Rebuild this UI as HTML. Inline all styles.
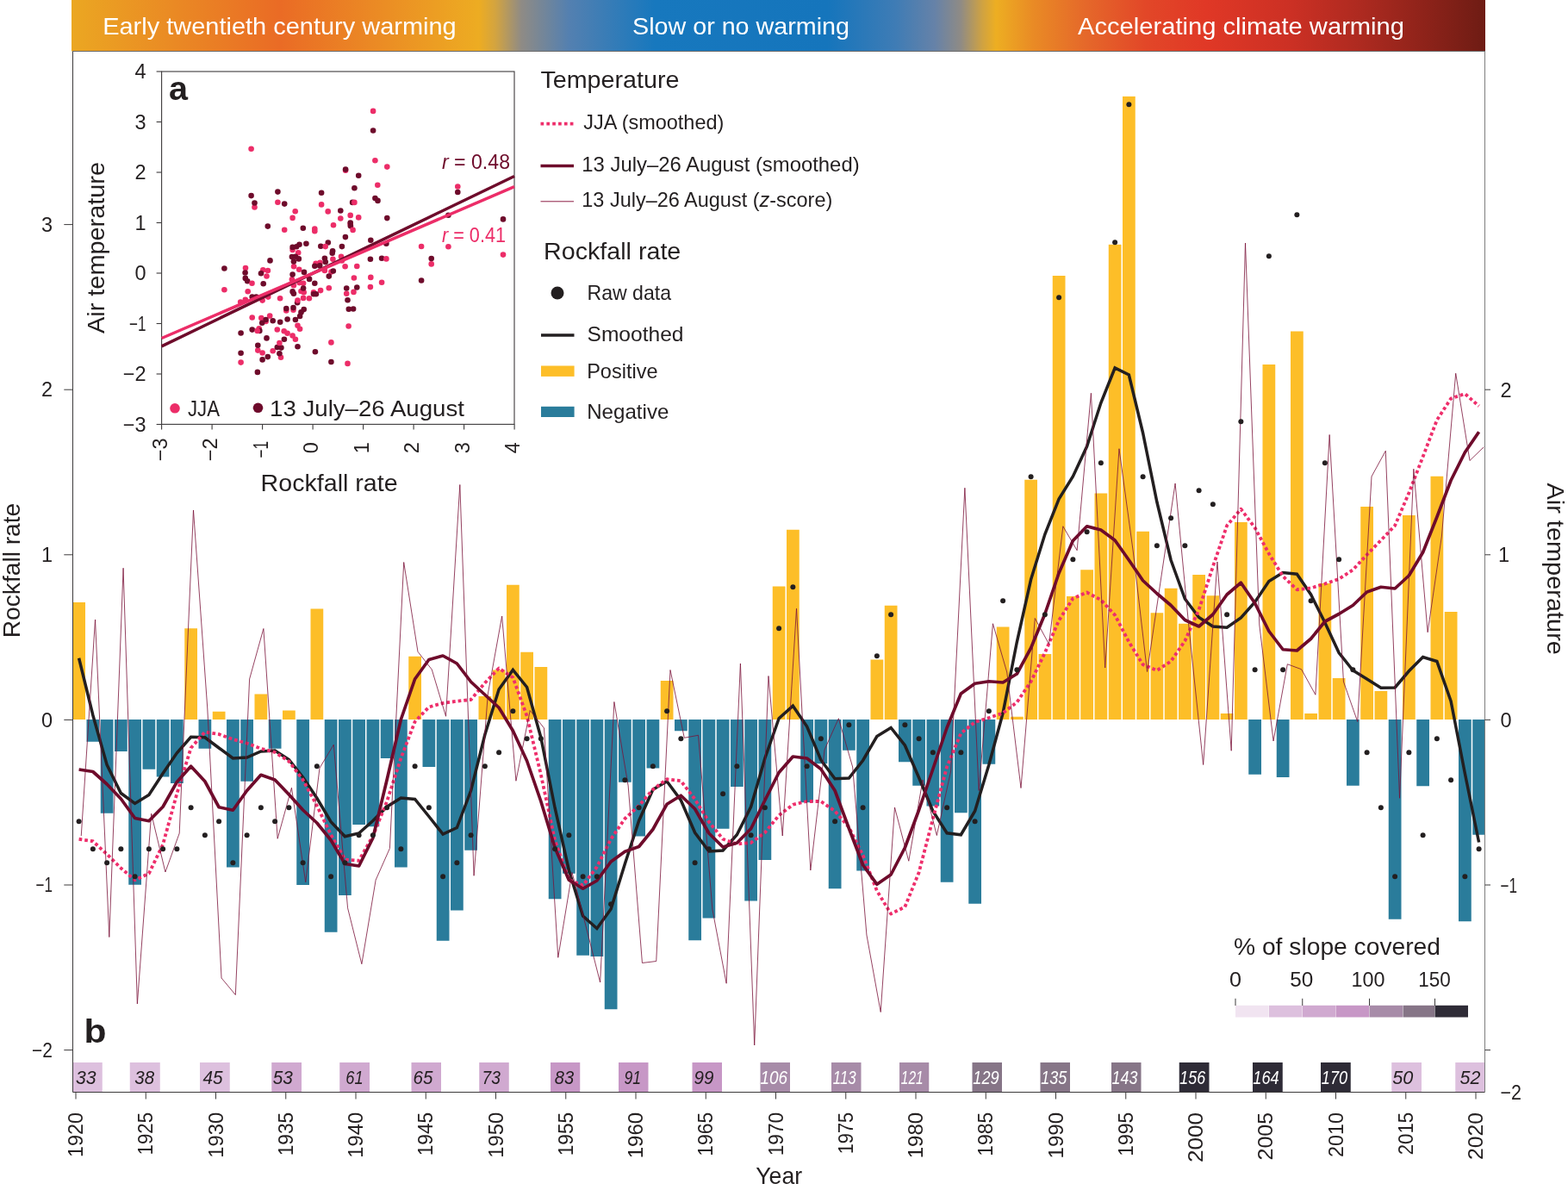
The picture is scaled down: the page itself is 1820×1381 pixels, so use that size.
<!DOCTYPE html>
<html lang="en"><head><meta charset="utf-8"><title>Rockfall rate and air temperature, 1920-2020</title>
<style>html,body{margin:0;padding:0;background:#fff}body{width:1820px;height:1381px;overflow:hidden}svg{display:block}text{font-family:'Liberation Sans', Arial, Helvetica, sans-serif}</style>
</head><body>
<svg width="1820" height="1381" viewBox="0 0 1820 1381" fill="#231f20" role="img" aria-label="Rockfall rate and air temperature 1920-2020">
<defs><linearGradient id="bn" gradientUnits="userSpaceOnUse" x1="83" y1="0" x2="1724" y2="0">
<stop offset="0.0000" stop-color="#EBA722"/>
<stop offset="0.0713" stop-color="#EA8A24"/>
<stop offset="0.1475" stop-color="#EA6B25"/>
<stop offset="0.2236" stop-color="#EB8E24"/>
<stop offset="0.2882" stop-color="#EDAC22"/>
<stop offset="0.2998" stop-color="#D3A440"/>
<stop offset="0.3181" stop-color="#8F8B85"/>
<stop offset="0.3516" stop-color="#5480B0"/>
<stop offset="0.4126" stop-color="#1778BE"/>
<stop offset="0.5344" stop-color="#1575BC"/>
<stop offset="0.5832" stop-color="#3F7CB5"/>
<stop offset="0.6106" stop-color="#6682A8"/>
<stop offset="0.6289" stop-color="#8F8B85"/>
<stop offset="0.6441" stop-color="#CFA242"/>
<stop offset="0.6539" stop-color="#EDAE22"/>
<stop offset="0.6807" stop-color="#E98A25"/>
<stop offset="0.7172" stop-color="#E5682A"/>
<stop offset="0.7599" stop-color="#E24728"/>
<stop offset="0.8026" stop-color="#E03826"/>
<stop offset="0.8635" stop-color="#CB3024"/>
<stop offset="0.9122" stop-color="#AD2A20"/>
<stop offset="0.9610" stop-color="#8B2219"/>
<stop offset="1.0000" stop-color="#6E1C14"/>
</linearGradient></defs>
<rect x="0" y="0" width="1820" height="1381" fill="#fff"/>
<rect x="83" y="0" width="1641" height="59.5" fill="url(#bn)"/>
<text x="119.2" y="40.2" font-size="28" textLength="410.5" lengthAdjust="spacingAndGlyphs" fill="#fff">Early twentieth century warming</text>
<text x="734" y="40.2" font-size="28" textLength="252" lengthAdjust="spacingAndGlyphs" fill="#fff">Slow or no warming</text>
<text x="1251" y="40.2" font-size="28" textLength="379" lengthAdjust="spacingAndGlyphs" fill="#fff">Accelerating climate warming</text>
<g id="bars" shape-rendering="auto">
<rect x="84.25" y="699" width="14.75" height="136" fill="#FDBE28"/>
<rect x="100.5" y="835" width="14.75" height="25.75" fill="#2A7C9B"/>
<rect x="116.75" y="835" width="14.75" height="108.75" fill="#2A7C9B"/>
<rect x="133" y="835" width="14.75" height="37" fill="#2A7C9B"/>
<rect x="149.25" y="835" width="14.75" height="191.75" fill="#2A7C9B"/>
<rect x="165.5" y="835" width="14.75" height="57.75" fill="#2A7C9B"/>
<rect x="181.75" y="835" width="14.75" height="66.5" fill="#2A7C9B"/>
<rect x="198" y="835" width="14.75" height="74" fill="#2A7C9B"/>
<rect x="214.25" y="729.25" width="14.75" height="105.75" fill="#FDBE28"/>
<rect x="230.5" y="835" width="14.75" height="33.75" fill="#2A7C9B"/>
<rect x="246.75" y="825.75" width="14.75" height="9.25" fill="#FDBE28"/>
<rect x="263" y="835" width="14.75" height="171.5" fill="#2A7C9B"/>
<rect x="279.25" y="835" width="14.75" height="71.75" fill="#2A7C9B"/>
<rect x="295.5" y="805.5" width="14.75" height="29.5" fill="#FDBE28"/>
<rect x="311.75" y="835" width="14.75" height="33.75" fill="#2A7C9B"/>
<rect x="328" y="824.5" width="14.75" height="10.5" fill="#FDBE28"/>
<rect x="344.25" y="835" width="14.75" height="192" fill="#2A7C9B"/>
<rect x="360.5" y="706.5" width="14.75" height="128.5" fill="#FDBE28"/>
<rect x="376.75" y="835" width="14.75" height="246.75" fill="#2A7C9B"/>
<rect x="393" y="835" width="14.75" height="204" fill="#2A7C9B"/>
<rect x="409.25" y="835" width="14.75" height="122" fill="#2A7C9B"/>
<rect x="425.5" y="835" width="14.75" height="124.25" fill="#2A7C9B"/>
<rect x="441.75" y="835" width="14.75" height="45" fill="#2A7C9B"/>
<rect x="458" y="835" width="14.75" height="171.5" fill="#2A7C9B"/>
<rect x="474.25" y="761.75" width="14.75" height="73.25" fill="#FDBE28"/>
<rect x="490.5" y="835" width="14.75" height="55" fill="#2A7C9B"/>
<rect x="506.75" y="835" width="14.75" height="256.75" fill="#2A7C9B"/>
<rect x="523" y="835" width="14.75" height="221.5" fill="#2A7C9B"/>
<rect x="539.25" y="835" width="14.75" height="151.75" fill="#2A7C9B"/>
<rect x="555.5" y="808" width="14.75" height="27" fill="#FDBE28"/>
<rect x="571.75" y="777.5" width="14.75" height="57.5" fill="#FDBE28"/>
<rect x="588" y="678.75" width="14.75" height="156.25" fill="#FDBE28"/>
<rect x="604.25" y="756.75" width="14.75" height="78.25" fill="#FDBE28"/>
<rect x="620.5" y="774" width="14.75" height="61" fill="#FDBE28"/>
<rect x="636.75" y="835" width="14.75" height="208.25" fill="#2A7C9B"/>
<rect x="653" y="835" width="14.75" height="178.75" fill="#2A7C9B"/>
<rect x="669.25" y="835" width="14.75" height="273.75" fill="#2A7C9B"/>
<rect x="685.5" y="835" width="14.75" height="275" fill="#2A7C9B"/>
<rect x="701.75" y="835" width="14.75" height="336.25" fill="#2A7C9B"/>
<rect x="718" y="835" width="14.75" height="72.75" fill="#2A7C9B"/>
<rect x="734.25" y="835" width="14.75" height="135.5" fill="#2A7C9B"/>
<rect x="750.5" y="835" width="14.75" height="56.5" fill="#2A7C9B"/>
<rect x="766.75" y="790" width="14.75" height="45" fill="#FDBE28"/>
<rect x="783" y="835" width="14.75" height="13.25" fill="#2A7C9B"/>
<rect x="799.25" y="835" width="14.75" height="256.25" fill="#2A7C9B"/>
<rect x="815.5" y="835" width="14.75" height="230.5" fill="#2A7C9B"/>
<rect x="831.75" y="835" width="14.75" height="126.75" fill="#2A7C9B"/>
<rect x="848" y="835" width="14.75" height="78" fill="#2A7C9B"/>
<rect x="864.25" y="835" width="14.75" height="210.5" fill="#2A7C9B"/>
<rect x="880.5" y="835" width="14.75" height="163" fill="#2A7C9B"/>
<rect x="896.75" y="680.5" width="14.75" height="154.5" fill="#FDBE28"/>
<rect x="913" y="614.75" width="14.75" height="220.25" fill="#FDBE28"/>
<rect x="929.25" y="835" width="14.75" height="96.25" fill="#2A7C9B"/>
<rect x="945.5" y="835" width="14.75" height="51.25" fill="#2A7C9B"/>
<rect x="961.75" y="835" width="14.75" height="196.25" fill="#2A7C9B"/>
<rect x="978" y="835" width="14.75" height="35.75" fill="#2A7C9B"/>
<rect x="994.25" y="835" width="14.75" height="175.5" fill="#2A7C9B"/>
<rect x="1010.5" y="765.5" width="14.75" height="69.5" fill="#FDBE28"/>
<rect x="1026.75" y="702.75" width="14.75" height="132.25" fill="#FDBE28"/>
<rect x="1043" y="835" width="14.75" height="49.25" fill="#2A7C9B"/>
<rect x="1059.25" y="835" width="14.75" height="76.75" fill="#2A7C9B"/>
<rect x="1075.5" y="835" width="14.75" height="100.5" fill="#2A7C9B"/>
<rect x="1091.75" y="835" width="14.75" height="188.75" fill="#2A7C9B"/>
<rect x="1108" y="835" width="14.75" height="108.25" fill="#2A7C9B"/>
<rect x="1124.25" y="835" width="14.75" height="213.75" fill="#2A7C9B"/>
<rect x="1140.5" y="835" width="14.75" height="51.75" fill="#2A7C9B"/>
<rect x="1156.75" y="727.5" width="14.75" height="107.5" fill="#FDBE28"/>
<rect x="1173" y="831.75" width="14.75" height="3.25" fill="#FDBE28"/>
<rect x="1189.25" y="556.75" width="14.75" height="278.25" fill="#FDBE28"/>
<rect x="1205.5" y="759" width="14.75" height="76" fill="#FDBE28"/>
<rect x="1221.75" y="320" width="14.75" height="515" fill="#FDBE28"/>
<rect x="1238" y="692" width="14.75" height="143" fill="#FDBE28"/>
<rect x="1254.25" y="661.25" width="14.75" height="173.75" fill="#FDBE28"/>
<rect x="1270.5" y="572.5" width="14.75" height="262.5" fill="#FDBE28"/>
<rect x="1286.75" y="283.8" width="14.75" height="551.2" fill="#FDBE28"/>
<rect x="1303" y="111.9" width="14.75" height="723.1" fill="#FDBE28"/>
<rect x="1319.25" y="616.75" width="14.75" height="218.25" fill="#FDBE28"/>
<rect x="1335.5" y="711.25" width="14.75" height="123.75" fill="#FDBE28"/>
<rect x="1351.75" y="682.75" width="14.75" height="152.25" fill="#FDBE28"/>
<rect x="1368" y="723.75" width="14.75" height="111.25" fill="#FDBE28"/>
<rect x="1384.25" y="667" width="14.75" height="168" fill="#FDBE28"/>
<rect x="1400.5" y="691.25" width="14.75" height="143.75" fill="#FDBE28"/>
<rect x="1416.75" y="828" width="14.75" height="7" fill="#FDBE28"/>
<rect x="1433" y="606" width="14.75" height="229" fill="#FDBE28"/>
<rect x="1449.25" y="835" width="14.75" height="63.75" fill="#2A7C9B"/>
<rect x="1465.5" y="423" width="14.75" height="412" fill="#FDBE28"/>
<rect x="1481.75" y="835" width="14.75" height="67" fill="#2A7C9B"/>
<rect x="1498" y="384.5" width="14.75" height="450.5" fill="#FDBE28"/>
<rect x="1514.25" y="828" width="14.75" height="7" fill="#FDBE28"/>
<rect x="1530.5" y="677" width="14.75" height="158" fill="#FDBE28"/>
<rect x="1546.75" y="787" width="14.75" height="48" fill="#FDBE28"/>
<rect x="1563" y="835" width="14.75" height="76.75" fill="#2A7C9B"/>
<rect x="1579.25" y="588" width="14.75" height="247" fill="#FDBE28"/>
<rect x="1595.5" y="802" width="14.75" height="33" fill="#FDBE28"/>
<rect x="1611.75" y="835" width="14.75" height="231.75" fill="#2A7C9B"/>
<rect x="1628" y="598" width="14.75" height="237" fill="#FDBE28"/>
<rect x="1644.25" y="835" width="14.75" height="77.25" fill="#2A7C9B"/>
<rect x="1660.5" y="552.75" width="14.75" height="282.25" fill="#FDBE28"/>
<rect x="1676.75" y="710" width="14.75" height="125" fill="#FDBE28"/>
<rect x="1693" y="835" width="14.75" height="234.25" fill="#2A7C9B"/>
<rect x="1709.25" y="835" width="14.25" height="133.75" fill="#2A7C9B"/>
</g>
<g id="cov">
<rect x="84.5" y="1233" width="34.25" height="34" fill="#DDC0DE"/>
<rect x="150.75" y="1233" width="35" height="34" fill="#DDC0DE"/>
<rect x="232" y="1233" width="34.75" height="34" fill="#DDC0DE"/>
<rect x="315.25" y="1233" width="34.75" height="34" fill="#D0A9D0"/>
<rect x="394.25" y="1233" width="34.75" height="34" fill="#D0A9D0"/>
<rect x="477.5" y="1233" width="34.5" height="34" fill="#D0A9D0"/>
<rect x="556.25" y="1233" width="34.5" height="34" fill="#D0A9D0"/>
<rect x="639" y="1233" width="34.25" height="34" fill="#C797C6"/>
<rect x="718" y="1233" width="34.5" height="34" fill="#C797C6"/>
<rect x="803.5" y="1233" width="34.5" height="34" fill="#C797C6"/>
<rect x="882.5" y="1233" width="34.5" height="34" fill="#A78BA8"/>
<rect x="965" y="1233" width="34.5" height="34" fill="#A78BA8"/>
<rect x="1044" y="1233" width="34.25" height="34" fill="#A78BA8"/>
<rect x="1128.5" y="1233" width="34.5" height="34" fill="#867587"/>
<rect x="1207.5" y="1233" width="34.5" height="34" fill="#867587"/>
<rect x="1290" y="1233" width="34.5" height="34" fill="#867587"/>
<rect x="1368.75" y="1233" width="34.75" height="34" fill="#2E2B36"/>
<rect x="1454" y="1233" width="34.75" height="34" fill="#2E2B36"/>
<rect x="1533" y="1233" width="34.75" height="34" fill="#2E2B36"/>
<rect x="1615.25" y="1233" width="34.75" height="34" fill="#DDC0DE"/>
<rect x="1689.25" y="1233" width="34.75" height="34" fill="#DDC0DE"/>
<text x="88.05" y="1258" font-size="21.3" textLength="23.6" lengthAdjust="spacingAndGlyphs" font-style="italic">33</text>
<text x="156.3" y="1258" font-size="21.3" textLength="22.85" lengthAdjust="spacingAndGlyphs" font-style="italic">38</text>
<text x="235.55" y="1258" font-size="21.3" textLength="23.1" lengthAdjust="spacingAndGlyphs" font-style="italic">45</text>
<text x="316.8" y="1258" font-size="21.3" textLength="23.1" lengthAdjust="spacingAndGlyphs" font-style="italic">53</text>
<text x="401.3" y="1258" font-size="21.3" textLength="20.35" lengthAdjust="spacingAndGlyphs" font-style="italic">61</text>
<text x="479.55" y="1258" font-size="21.3" textLength="22.85" lengthAdjust="spacingAndGlyphs" font-style="italic">65</text>
<text x="559.55" y="1258" font-size="21.3" textLength="21.35" lengthAdjust="spacingAndGlyphs" font-style="italic">73</text>
<text x="643.8" y="1258" font-size="21.3" textLength="22.35" lengthAdjust="spacingAndGlyphs" font-style="italic">83</text>
<text x="724.55" y="1258" font-size="21.3" textLength="19.6" lengthAdjust="spacingAndGlyphs" font-style="italic">91</text>
<text x="805.55" y="1258" font-size="21.3" textLength="22.85" lengthAdjust="spacingAndGlyphs" font-style="italic">99</text>
<text x="882.55" y="1258" font-size="21.3" textLength="31.6" lengthAdjust="spacingAndGlyphs" fill="#fff" font-style="italic">106</text>
<text x="966.8" y="1258" font-size="21.3" textLength="26.85" lengthAdjust="spacingAndGlyphs" fill="#fff" font-style="italic">113</text>
<text x="1045.8" y="1258" font-size="21.3" textLength="25.85" lengthAdjust="spacingAndGlyphs" fill="#fff" font-style="italic">121</text>
<text x="1129.3" y="1258" font-size="21.3" textLength="30.35" lengthAdjust="spacingAndGlyphs" fill="#fff" font-style="italic">129</text>
<text x="1208.3" y="1258" font-size="21.3" textLength="30.1" lengthAdjust="spacingAndGlyphs" fill="#fff" font-style="italic">135</text>
<text x="1290.55" y="1258" font-size="21.3" textLength="29.85" lengthAdjust="spacingAndGlyphs" fill="#fff" font-style="italic">143</text>
<text x="1369.3" y="1258" font-size="21.3" textLength="29.85" lengthAdjust="spacingAndGlyphs" fill="#fff" font-style="italic">156</text>
<text x="1454.3" y="1258" font-size="21.3" textLength="30.35" lengthAdjust="spacingAndGlyphs" fill="#fff" font-style="italic">164</text>
<text x="1533.8" y="1258" font-size="21.3" textLength="30.35" lengthAdjust="spacingAndGlyphs" fill="#fff" font-style="italic">170</text>
<text x="1616.3" y="1258" font-size="21.3" textLength="24.1" lengthAdjust="spacingAndGlyphs" font-style="italic">50</text>
<text x="1694.55" y="1258" font-size="21.3" textLength="23.85" lengthAdjust="spacingAndGlyphs" font-style="italic">52</text>
</g>
<g stroke="#3c3a3b" stroke-width="1" fill="none">
<path d="M84.5 59 V1267.5 H1723.5"/>
<path d="M1723.5 59 V1267.5" stroke="#7d7d7d"/>
<path d="M84 59.5 H1724" stroke="#6b6b6b"/>
<path d="M74.3 260.6 H84.5"/>
<path d="M74.3 452.2 H84.5"/>
<path d="M74.3 643.8 H84.5"/>
<path d="M74.3 835.4 H84.5"/>
<path d="M74.3 1027 H84.5"/>
<path d="M74.3 1218.6 H84.5"/>
<path d="M1723.5 452.2 H1730"/>
<path d="M1723.5 643.8 H1730"/>
<path d="M1723.5 835.4 H1730"/>
<path d="M1723.5 1027 H1730"/>
<path d="M1723.5 1218.6 H1730"/>
<path d="M88 1267.5 V1275.5"/>
<path d="M169.25 1267.5 V1275.5"/>
<path d="M250.5 1267.5 V1275.5"/>
<path d="M331.75 1267.5 V1275.5"/>
<path d="M413 1267.5 V1275.5"/>
<path d="M494.25 1267.5 V1275.5"/>
<path d="M575.5 1267.5 V1275.5"/>
<path d="M656.75 1267.5 V1275.5"/>
<path d="M738 1267.5 V1275.5"/>
<path d="M819.25 1267.5 V1275.5"/>
<path d="M900.5 1267.5 V1275.5"/>
<path d="M981.75 1267.5 V1275.5"/>
<path d="M1063 1267.5 V1275.5"/>
<path d="M1144.25 1267.5 V1275.5"/>
<path d="M1225.5 1267.5 V1275.5"/>
<path d="M1306.75 1267.5 V1275.5"/>
<path d="M1388 1267.5 V1275.5"/>
<path d="M1469.25 1267.5 V1275.5"/>
<path d="M1550.5 1267.5 V1275.5"/>
<path d="M1631.75 1267.5 V1275.5"/>
<path d="M1713 1267.5 V1275.5"/>
</g>
<text x="61" y="268.8" font-size="23.5" text-anchor="end">3</text>
<text x="61" y="460.4" font-size="23.5" text-anchor="end">2</text>
<text x="61" y="652" font-size="23.5" text-anchor="end">1</text>
<text x="61" y="843.6" font-size="23.5" text-anchor="end">0</text>
<text x="61" y="1035.2" font-size="23.5" text-anchor="end" textLength="19.5" lengthAdjust="spacingAndGlyphs">−1</text>
<text x="61" y="1226.8" font-size="23.5" text-anchor="end" textLength="24" lengthAdjust="spacingAndGlyphs">−2</text>
<text x="1741.4" y="460.7" font-size="23.5">2</text>
<text x="1739" y="651.5" font-size="23.5">1</text>
<text x="1741.4" y="843.9" font-size="23.5">0</text>
<text x="1741.4" y="1035.5" font-size="23.5" textLength="19.5" lengthAdjust="spacingAndGlyphs">−1</text>
<text x="1741.4" y="1275.5" font-size="23.5" textLength="24.5" lengthAdjust="spacingAndGlyphs">−2</text>
<text x="96.2" y="1290.9" font-size="24" text-anchor="end" textLength="52.1" lengthAdjust="spacingAndGlyphs" transform="rotate(-90 96.2 1290.9)">1920</text>
<text x="177.45" y="1290.9" font-size="24" text-anchor="end" textLength="49.6" lengthAdjust="spacingAndGlyphs" transform="rotate(-90 177.45 1290.9)">1925</text>
<text x="258.7" y="1290.9" font-size="24" text-anchor="end" textLength="52.85" lengthAdjust="spacingAndGlyphs" transform="rotate(-90 258.7 1290.9)">1930</text>
<text x="339.95" y="1290.9" font-size="24" text-anchor="end" textLength="50.35" lengthAdjust="spacingAndGlyphs" transform="rotate(-90 339.95 1290.9)">1935</text>
<text x="421.2" y="1290.9" font-size="24" text-anchor="end" textLength="52.85" lengthAdjust="spacingAndGlyphs" transform="rotate(-90 421.2 1290.9)">1940</text>
<text x="502.45" y="1290.9" font-size="24" text-anchor="end" textLength="50.35" lengthAdjust="spacingAndGlyphs" transform="rotate(-90 502.45 1290.9)">1945</text>
<text x="583.7" y="1290.9" font-size="24" text-anchor="end" textLength="52.85" lengthAdjust="spacingAndGlyphs" transform="rotate(-90 583.7 1290.9)">1950</text>
<text x="664.95" y="1290.9" font-size="24" text-anchor="end" textLength="50.35" lengthAdjust="spacingAndGlyphs" transform="rotate(-90 664.95 1290.9)">1955</text>
<text x="746.2" y="1290.9" font-size="24" text-anchor="end" textLength="53.35" lengthAdjust="spacingAndGlyphs" transform="rotate(-90 746.2 1290.9)">1960</text>
<text x="827.45" y="1290.9" font-size="24" text-anchor="end" textLength="50.85" lengthAdjust="spacingAndGlyphs" transform="rotate(-90 827.45 1290.9)">1965</text>
<text x="908.7" y="1290.9" font-size="24" text-anchor="end" textLength="50.35" lengthAdjust="spacingAndGlyphs" transform="rotate(-90 908.7 1290.9)">1970</text>
<text x="989.95" y="1290.9" font-size="24" text-anchor="end" textLength="48.35" lengthAdjust="spacingAndGlyphs" transform="rotate(-90 989.95 1290.9)">1975</text>
<text x="1071.2" y="1290.9" font-size="24" text-anchor="end" textLength="53.35" lengthAdjust="spacingAndGlyphs" transform="rotate(-90 1071.2 1290.9)">1980</text>
<text x="1152.45" y="1290.9" font-size="24" text-anchor="end" textLength="50.85" lengthAdjust="spacingAndGlyphs" transform="rotate(-90 1152.45 1290.9)">1985</text>
<text x="1233.7" y="1290.9" font-size="24" text-anchor="end" textLength="53.6" lengthAdjust="spacingAndGlyphs" transform="rotate(-90 1233.7 1290.9)">1990</text>
<text x="1314.95" y="1290.9" font-size="24" text-anchor="end" textLength="50.85" lengthAdjust="spacingAndGlyphs" transform="rotate(-90 1314.95 1290.9)">1995</text>
<text x="1396.2" y="1290.9" font-size="24" text-anchor="end" textLength="58.1" lengthAdjust="spacingAndGlyphs" transform="rotate(-90 1396.2 1290.9)">2000</text>
<text x="1477.45" y="1290.9" font-size="24" text-anchor="end" textLength="55.6" lengthAdjust="spacingAndGlyphs" transform="rotate(-90 1477.45 1290.9)">2005</text>
<text x="1558.7" y="1290.9" font-size="24" text-anchor="end" textLength="52.1" lengthAdjust="spacingAndGlyphs" transform="rotate(-90 1558.7 1290.9)">2010</text>
<text x="1639.95" y="1290.9" font-size="24" text-anchor="end" textLength="49.35" lengthAdjust="spacingAndGlyphs" transform="rotate(-90 1639.95 1290.9)">2015</text>
<text x="1721.2" y="1290.9" font-size="24" text-anchor="end" textLength="55.1" lengthAdjust="spacingAndGlyphs" transform="rotate(-90 1721.2 1290.9)">2020</text>
<text x="877.3" y="1373.9" font-size="28" textLength="53.8" lengthAdjust="spacingAndGlyphs">Year</text>
<text x="23.3" y="662" font-size="28.5" text-anchor="middle" textLength="156.5" lengthAdjust="spacingAndGlyphs" transform="rotate(-90 23.3 662)">Rockfall rate</text>
<text x="1796.3" y="660.2" font-size="28" text-anchor="middle" textLength="199.5" lengthAdjust="spacingAndGlyphs" transform="rotate(90 1796.3 660.2)">Air temperature</text>
<polyline points="91.6,763.75 107.85,830 124.1,887.5 140.35,920.5 156.6,932.5 172.85,922.5 189.1,897.5 205.35,873.75 221.6,855.25 237.85,855.75 254.1,868 270.35,880 286.6,879 302.85,872 319.1,871 335.35,881.5 351.6,902 367.85,926.25 384.1,953.75 400.35,970.75 416.6,967 432.85,952.5 449.1,936.25 465.35,926 481.6,927.5 497.85,947.5 514.1,968 530.35,960.5 546.6,917.5 562.85,852.5 579.1,800 595.35,777.5 611.6,797.5 627.85,856 644.1,937.5 660.35,1010 676.6,1063 692.85,1077.5 709.1,1055 725.35,1002.5 741.6,952.5 757.85,916.25 774.1,906.75 790.35,928.75 806.6,966.25 822.85,988 839.1,987 855.35,968.75 871.6,936.25 887.85,880 904.1,833.75 920.35,819.25 936.6,843 952.85,882 969.1,903.75 985.35,903 1001.6,882.5 1017.85,854.5 1034.1,844.5 1050.35,865 1066.6,902.5 1082.85,941.25 1099.1,966.75 1115.35,968.75 1131.6,941.25 1147.85,887.5 1164.1,827.5 1180.35,745 1196.6,672.5 1212.85,620 1229.1,579 1245.35,553 1261.6,518 1277.85,467.5 1294.1,427 1310.35,435 1326.6,502.5 1342.85,582.5 1359.1,650 1375.35,695 1391.6,716.5 1407.85,727 1424.1,728.25 1440.35,717 1456.6,698.75 1472.85,674.5 1489.1,664.5 1505.35,666.25 1521.6,690 1537.85,722.5 1554.1,757.5 1570.35,778 1586.6,788 1602.85,798.25 1619.1,798 1635.35,778.75 1651.6,762.5 1667.85,767.5 1684.1,813.75 1700.35,897.5 1716.6,977.5" fill="none" stroke="#231f20" stroke-width="3.5" stroke-linejoin="miter"/>
<polyline points="91.6,973.75 107.85,976.25 124.1,991.25 140.35,1007.5 156.6,1021.25 172.85,1013.75 189.1,980 205.35,921 221.6,868 237.85,849.5 254.1,852 270.35,858 286.6,862.5 302.85,868.75 319.1,873 335.35,883.5 351.6,905 367.85,935 384.1,968.75 400.35,997.5 416.6,998.75 432.85,970 449.1,930 465.35,880 481.6,837.5 497.85,820.5 514.1,816 530.35,813.75 546.6,812 562.85,792.5 579.1,775.5 595.35,786.25 611.6,831 627.85,899 644.1,975 660.35,1021 676.6,1027.5 692.85,1006 709.1,973.75 725.35,950 741.6,935 757.85,916.25 774.1,904.25 790.35,906.25 806.6,927.5 822.85,953.75 839.1,973.75 855.35,979.5 871.6,978 887.85,966.25 904.1,946.25 920.35,933.75 936.6,930 952.85,930 969.1,941.25 985.35,960 1001.6,992.5 1017.85,1033.75 1034.1,1060.5 1050.35,1052.5 1066.6,1012.5 1082.85,950 1099.1,890 1115.35,851 1131.6,838 1147.85,833 1164.1,827.5 1180.35,815 1196.6,791 1212.85,757.5 1229.1,720 1245.35,694.5 1261.6,687.5 1277.85,696.25 1294.1,713.75 1310.35,745 1326.6,771.25 1342.85,778 1359.1,767.5 1375.35,743.75 1391.6,707.5 1407.85,657.5 1424.1,610 1440.35,590.75 1456.6,612.5 1472.85,642.5 1489.1,668.75 1505.35,684.25 1521.6,682.5 1537.85,677.5 1554.1,672 1570.35,661.25 1586.6,643.75 1602.85,627 1619.1,610 1635.35,572 1651.6,530 1667.85,487.5 1684.1,462.5 1700.35,457 1716.6,471.25" fill="none" stroke="#EE2E6B" stroke-width="3.8" stroke-dasharray="3.7 3" stroke-linejoin="round"/>
<polyline points="91.6,893 107.85,895.5 124.1,910 140.35,927 156.6,949.5 172.85,952.75 189.1,936.25 205.35,907.5 221.6,889.25 237.85,906.75 254.1,936.75 270.35,940.25 286.6,917.5 302.85,899.25 319.1,905 335.35,922 351.6,940 367.85,955 384.1,975 400.35,1002.5 416.6,1005 432.85,972.5 449.1,905 465.35,835 481.6,788 497.85,765.5 514.1,761 530.35,770 546.6,791.25 562.85,806.25 579.1,821.25 595.35,848 611.6,883 627.85,930 644.1,983.75 660.35,1021.25 676.6,1031.25 692.85,1022 709.1,1000 725.35,988.25 741.6,982.5 757.85,962.5 774.1,933.25 790.35,923.25 806.6,938.75 822.85,967 839.1,983 855.35,978.25 871.6,961.75 887.85,928.75 904.1,896.5 920.35,878 936.6,880 952.85,892.5 969.1,917.5 985.35,961.25 1001.6,1003.75 1017.85,1026.25 1034.1,1015 1050.35,983.75 1066.6,940 1082.85,892.5 1099.1,844.5 1115.35,805 1131.6,793.25 1147.85,790.75 1164.1,792 1180.35,782 1196.6,752 1212.85,712.5 1229.1,665 1245.35,627.5 1261.6,610.75 1277.85,615 1294.1,627 1310.35,650 1326.6,673.75 1342.85,688.75 1359.1,702.5 1375.35,719.5 1391.6,727 1407.85,713 1424.1,690 1440.35,676.25 1456.6,700 1472.85,732.5 1489.1,753.75 1505.35,755 1521.6,741.25 1537.85,721.25 1554.1,712.5 1570.35,702.5 1586.6,687 1602.85,681.25 1619.1,683 1635.35,668 1651.6,641 1667.85,600 1684.1,557.5 1700.35,525 1716.6,501.25" fill="none" stroke="#6E0B2B" stroke-width="3.7" stroke-linejoin="round"/>
<polyline points="94.25,970 110.53,719 126.81,1087.5 143.09,659.25 159.37,1165 175.65,944.25 191.93,1012 208.21,967 224.49,592 240.77,822 257.05,1135 273.33,1154.5 289.61,788 305.89,729.5 322.17,973.25 338.45,914.25 354.73,1023.75 371.01,891.25 387.29,864.25 403.57,1053.75 419.85,1118.75 436.13,1021.25 452.41,984.5 468.69,652.5 484.97,756.25 501.25,777 517.53,831.25 533.81,562.5 550.09,1016.25 566.37,805 582.65,715 598.93,906.25 615.21,824.5 631.49,845 647.77,1111.25 664.05,1012.5 680.33,1076 696.61,1140 712.89,814.5 729.17,912 745.45,1117.5 761.73,1115.5 778.01,777.5 794.29,856.25 810.57,853.25 826.85,1055 843.13,1141.25 859.41,770 875.69,1213 891.97,784.5 908.25,970 924.53,706.25 940.81,1010 957.09,870 973.37,833.75 989.65,890 1005.93,1085 1022.21,1174.5 1038.49,937 1054.77,999.25 1071.05,905 1087.33,969.5 1103.61,895 1119.89,566.25 1136.17,917.5 1152.45,723.75 1168.73,780 1185.01,914.5 1201.29,717.5 1217.57,747.5 1233.85,610.75 1250.13,638.75 1266.41,456.25 1282.69,775 1298.97,520.75 1315.25,640 1331.53,779.5 1347.81,670 1364.09,561 1380.37,732 1396.65,887.5 1412.93,652 1429.21,871.25 1445.49,282 1461.77,725 1478.05,860 1494.33,770.75 1510.61,776.75 1526.89,806.25 1543.17,504.5 1559.45,791 1575.73,837.5 1592.01,553 1608.29,523.25 1624.57,926.25 1640.85,544.25 1657.13,733.75 1673.41,622 1689.69,433.25 1705.97,534.5 1722.25,518.75" fill="none" stroke="#7a1239" stroke-width="0.8" stroke-linejoin="miter" stroke-miterlimit="10"/>
<g fill="#231f20">
<circle cx="91.6" cy="953.25" r="3"/>
<circle cx="107.85" cy="985.25" r="3"/>
<circle cx="124.1" cy="1001.25" r="3"/>
<circle cx="140.35" cy="985.25" r="3"/>
<circle cx="156.6" cy="1017.25" r="3"/>
<circle cx="172.85" cy="985.25" r="3"/>
<circle cx="189.1" cy="985.25" r="3"/>
<circle cx="205.35" cy="985.25" r="3"/>
<circle cx="221.6" cy="937.25" r="3"/>
<circle cx="237.85" cy="969.25" r="3"/>
<circle cx="254.1" cy="953.25" r="3"/>
<circle cx="270.35" cy="1001.25" r="3"/>
<circle cx="286.6" cy="969.25" r="3"/>
<circle cx="302.85" cy="937.25" r="3"/>
<circle cx="319.1" cy="953.25" r="3"/>
<circle cx="335.35" cy="937.25" r="3"/>
<circle cx="351.6" cy="1001.25" r="3"/>
<circle cx="367.85" cy="889.25" r="3"/>
<circle cx="384.1" cy="1017.25" r="3"/>
<circle cx="400.35" cy="1001.25" r="3"/>
<circle cx="416.6" cy="969.25" r="3"/>
<circle cx="432.85" cy="969.25" r="3"/>
<circle cx="449.1" cy="937.25" r="3"/>
<circle cx="465.35" cy="985.25" r="3"/>
<circle cx="481.6" cy="889.25" r="3"/>
<circle cx="497.85" cy="937.25" r="3"/>
<circle cx="514.1" cy="1017.25" r="3"/>
<circle cx="530.35" cy="1001.25" r="3"/>
<circle cx="546.6" cy="969.25" r="3"/>
<circle cx="562.85" cy="889.25" r="3"/>
<circle cx="579.1" cy="873.25" r="3"/>
<circle cx="595.35" cy="825.25" r="3"/>
<circle cx="611.6" cy="857.25" r="3"/>
<circle cx="627.85" cy="857.25" r="3"/>
<circle cx="644.1" cy="985.25" r="3"/>
<circle cx="660.35" cy="969.25" r="3"/>
<circle cx="676.6" cy="1017.25" r="3"/>
<circle cx="692.85" cy="1017.25" r="3"/>
<circle cx="709.1" cy="1049.25" r="3"/>
<circle cx="725.35" cy="905.25" r="3"/>
<circle cx="741.6" cy="937.25" r="3"/>
<circle cx="757.85" cy="889.25" r="3"/>
<circle cx="774.1" cy="825.25" r="3"/>
<circle cx="790.35" cy="857.25" r="3"/>
<circle cx="806.6" cy="1001.25" r="3"/>
<circle cx="822.85" cy="985.25" r="3"/>
<circle cx="839.1" cy="921.25" r="3"/>
<circle cx="855.35" cy="889.25" r="3"/>
<circle cx="871.6" cy="969.25" r="3"/>
<circle cx="887.85" cy="937.25" r="3"/>
<circle cx="904.1" cy="729.25" r="3"/>
<circle cx="920.35" cy="681.25" r="3"/>
<circle cx="936.6" cy="889.25" r="3"/>
<circle cx="952.85" cy="857.25" r="3"/>
<circle cx="969.1" cy="953.25" r="3"/>
<circle cx="985.35" cy="841.25" r="3"/>
<circle cx="1001.6" cy="937.25" r="3"/>
<circle cx="1017.85" cy="761.25" r="3"/>
<circle cx="1034.1" cy="713.25" r="3"/>
<circle cx="1050.35" cy="841.25" r="3"/>
<circle cx="1066.6" cy="857.25" r="3"/>
<circle cx="1082.85" cy="873.25" r="3"/>
<circle cx="1099.1" cy="937.25" r="3"/>
<circle cx="1115.35" cy="873.25" r="3"/>
<circle cx="1131.6" cy="953.25" r="3"/>
<circle cx="1147.85" cy="825.25" r="3"/>
<circle cx="1164.1" cy="697.25" r="3"/>
<circle cx="1180.35" cy="777.25" r="3"/>
<circle cx="1196.6" cy="553.25" r="3"/>
<circle cx="1212.85" cy="713.25" r="3"/>
<circle cx="1229.1" cy="345.25" r="3"/>
<circle cx="1245.35" cy="649.25" r="3"/>
<circle cx="1261.6" cy="617.25" r="3"/>
<circle cx="1277.85" cy="537.25" r="3"/>
<circle cx="1294.1" cy="281.25" r="3"/>
<circle cx="1310.35" cy="121.25" r="3"/>
<circle cx="1326.6" cy="553.25" r="3"/>
<circle cx="1342.85" cy="633.25" r="3"/>
<circle cx="1359.1" cy="601.25" r="3"/>
<circle cx="1375.35" cy="633.25" r="3"/>
<circle cx="1391.6" cy="569.25" r="3"/>
<circle cx="1407.85" cy="585.25" r="3"/>
<circle cx="1424.1" cy="713.25" r="3"/>
<circle cx="1440.35" cy="489.25" r="3"/>
<circle cx="1456.6" cy="777.25" r="3"/>
<circle cx="1472.85" cy="297.25" r="3"/>
<circle cx="1489.1" cy="777.25" r="3"/>
<circle cx="1505.35" cy="249.25" r="3"/>
<circle cx="1521.6" cy="697.25" r="3"/>
<circle cx="1537.85" cy="537.25" r="3"/>
<circle cx="1554.1" cy="649.25" r="3"/>
<circle cx="1570.35" cy="777.25" r="3"/>
<circle cx="1586.6" cy="873.25" r="3"/>
<circle cx="1602.85" cy="937.25" r="3"/>
<circle cx="1619.1" cy="1017.25" r="3"/>
<circle cx="1635.35" cy="873.25" r="3"/>
<circle cx="1651.6" cy="969.25" r="3"/>
<circle cx="1667.85" cy="857.25" r="3"/>
<circle cx="1684.1" cy="905.25" r="3"/>
<circle cx="1700.35" cy="1017.25" r="3"/>
<circle cx="1716.6" cy="985.25" r="3"/>
</g>
<text x="627.4" y="102" font-size="27.5" textLength="161" lengthAdjust="spacingAndGlyphs">Temperature</text>
<path d="M627.5 143.6 H666" stroke="#EE2E6B" stroke-width="3.8" stroke-dasharray="3.7 3.15" fill="none"/>
<text x="677.3" y="150" font-size="24" textLength="163" lengthAdjust="spacingAndGlyphs">JJA (smoothed)</text>
<path d="M627.5 192.5 H666" stroke="#6E0B2B" stroke-width="3.5" fill="none"/>
<text x="675.3" y="198.8" font-size="24" textLength="322.3" lengthAdjust="spacingAndGlyphs">13 July–26 August (smoothed)</text>
<path d="M627.5 233.8 H666" stroke="#8c1d45" stroke-width="1" fill="none"/>
<text x="675.3" y="240" font-size="24" textLength="291" lengthAdjust="spacingAndGlyphs">13 July–26 August (<tspan font-style="italic">z</tspan>-score)</text>
<text x="631" y="300.5" font-size="27.5" textLength="159.3" lengthAdjust="spacingAndGlyphs">Rockfall rate</text>
<circle cx="647" cy="340" r="7.5" fill="#231f20"/>
<text x="681.5" y="348.3" font-size="24" textLength="97.5" lengthAdjust="spacingAndGlyphs">Raw data</text>
<path d="M628 389 H666.5" stroke="#231f20" stroke-width="3.5" fill="none"/>
<text x="681.5" y="395.5" font-size="24" textLength="112" lengthAdjust="spacingAndGlyphs">Smoothed</text>
<rect x="628" y="424.5" width="38.6" height="12.4" fill="#FDBE28"/>
<text x="681.2" y="438.5" font-size="24" textLength="82.3" lengthAdjust="spacingAndGlyphs">Positive</text>
<rect x="628" y="471.8" width="38.6" height="12.2" fill="#2A7C9B"/>
<text x="681.2" y="486.3" font-size="24" textLength="95.2" lengthAdjust="spacingAndGlyphs">Negative</text>
<text x="1432" y="1108" font-size="27.5" textLength="240" lengthAdjust="spacingAndGlyphs">% of slope covered</text>
<text x="1434" y="1144.5" font-size="23.5" text-anchor="middle" textLength="14" lengthAdjust="spacingAndGlyphs">0</text>
<text x="1510.8" y="1144.5" font-size="23.5" text-anchor="middle" textLength="27" lengthAdjust="spacingAndGlyphs">50</text>
<text x="1588" y="1144.5" font-size="23.5" text-anchor="middle" textLength="39" lengthAdjust="spacingAndGlyphs">100</text>
<text x="1665" y="1144.5" font-size="23.5" text-anchor="middle" textLength="37.5" lengthAdjust="spacingAndGlyphs">150</text>
<rect x="1434" y="1166.8" width="38.6" height="13.7" fill="#F1E4F1"/>
<rect x="1473" y="1166.8" width="38.35" height="13.7" fill="#DDC0DE"/>
<rect x="1511.75" y="1166.8" width="38.35" height="13.7" fill="#D0A9D0"/>
<rect x="1550.5" y="1166.8" width="38.6" height="13.7" fill="#C797C6"/>
<rect x="1589.5" y="1166.8" width="38.6" height="13.7" fill="#A78BA8"/>
<rect x="1628.5" y="1166.8" width="36.6" height="13.7" fill="#867587"/>
<rect x="1665.5" y="1166.8" width="38.5" height="13.7" fill="#2E2B36"/>
<g stroke="#3c3a3b" stroke-width="1" fill="none">
<path d="M1434 1158.8 V1167"/>
<path d="M1511.75 1158.8 V1167"/>
<path d="M1589.5 1158.8 V1167"/>
<path d="M1665.5 1158.8 V1167"/>
</g>
<text x="196" y="115.5" font-size="38" textLength="22" lengthAdjust="spacingAndGlyphs" font-weight="bold">a</text>
<text x="97.6" y="1210.2" font-size="38.8" textLength="26" lengthAdjust="spacingAndGlyphs" font-weight="bold">b</text>
<g stroke="#3c3a3b" stroke-width="1.1" fill="none">
<rect x="187.6" y="83" width="409.4" height="409.4"/>
<path d="M181.6 83 H187.6"/>
<path d="M187.6 492.4 V498.6"/>
<path d="M181.6 141.5 H187.6"/>
<path d="M246.1 492.4 V498.6"/>
<path d="M181.6 200 H187.6"/>
<path d="M304.6 492.4 V498.6"/>
<path d="M181.6 258.5 H187.6"/>
<path d="M363.1 492.4 V498.6"/>
<path d="M181.6 317 H187.6"/>
<path d="M421.6 492.4 V498.6"/>
<path d="M181.6 375.5 H187.6"/>
<path d="M480.1 492.4 V498.6"/>
<path d="M181.6 434 H187.6"/>
<path d="M538.6 492.4 V498.6"/>
<path d="M181.6 492.5 H187.6"/>
<path d="M597.1 492.4 V498.6"/>
</g>
<text x="169.5" y="91.3" font-size="23.5" text-anchor="end">4</text>
<text x="169.5" y="149.8" font-size="23.5" text-anchor="end">3</text>
<text x="169.5" y="208.3" font-size="23.5" text-anchor="end">2</text>
<text x="169.5" y="266.8" font-size="23.5" text-anchor="end">1</text>
<text x="169.5" y="325.3" font-size="23.5" text-anchor="end">0</text>
<text x="169.5" y="383.8" font-size="23.5" text-anchor="end" textLength="19.5" lengthAdjust="spacingAndGlyphs">−1</text>
<text x="169.5" y="442.3" font-size="23.5" text-anchor="end">−2</text>
<text x="169.5" y="500.8" font-size="23.5" text-anchor="end">−3</text>
<text x="193.7" y="521.8" font-size="23.5" text-anchor="middle" transform="rotate(-90 193.7 521.8)">−3</text>
<text x="252.2" y="521.8" font-size="23.5" text-anchor="middle" transform="rotate(-90 252.2 521.8)">−2</text>
<text x="310.7" y="521.8" font-size="23.5" text-anchor="middle" textLength="19.5" lengthAdjust="spacingAndGlyphs" transform="rotate(-90 310.7 521.8)">−1</text>
<text x="369.2" y="519.7" font-size="23.5" text-anchor="middle" transform="rotate(-90 369.2 519.7)">0</text>
<text x="427.7" y="519.7" font-size="23.5" text-anchor="middle" transform="rotate(-90 427.7 519.7)">1</text>
<text x="486.2" y="519.7" font-size="23.5" text-anchor="middle" transform="rotate(-90 486.2 519.7)">2</text>
<text x="544.7" y="519.7" font-size="23.5" text-anchor="middle" transform="rotate(-90 544.7 519.7)">3</text>
<text x="603.2" y="519.7" font-size="23.5" text-anchor="middle" transform="rotate(-90 603.2 519.7)">4</text>
<text x="121" y="287.5" font-size="28" text-anchor="middle" textLength="199" lengthAdjust="spacingAndGlyphs" transform="rotate(-90 121 287.5)">Air temperature</text>
<text x="302.6" y="570.2" font-size="27.5" textLength="159" lengthAdjust="spacingAndGlyphs">Rockfall rate</text>
<circle cx="433.1" cy="128.9" r="3.3" fill="#EC2D68"/>
<circle cx="291.6" cy="172.8" r="3.3" fill="#EC2D68"/>
<circle cx="435.4" cy="186.2" r="3.3" fill="#EC2D68"/>
<circle cx="449.3" cy="193.6" r="3.3" fill="#EC2D68"/>
<circle cx="401.1" cy="197.7" r="3.3" fill="#EC2D68"/>
<circle cx="438.3" cy="214.8" r="3.3" fill="#EC2D68"/>
<circle cx="295.5" cy="240.5" r="3.3" fill="#EC2D68"/>
<circle cx="322.4" cy="234.7" r="3.3" fill="#EC2D68"/>
<circle cx="373.1" cy="237.4" r="3.3" fill="#EC2D68"/>
<circle cx="342.7" cy="245.2" r="3.3" fill="#EC2D68"/>
<circle cx="380.7" cy="245.4" r="3.3" fill="#EC2D68"/>
<circle cx="406.7" cy="249.9" r="3.3" fill="#EC2D68"/>
<circle cx="339.6" cy="252.9" r="3.3" fill="#EC2D68"/>
<circle cx="395.3" cy="253.5" r="3.3" fill="#EC2D68"/>
<circle cx="416.2" cy="252.4" r="3.3" fill="#EC2D68"/>
<circle cx="406.7" cy="260.3" r="3.3" fill="#EC2D68"/>
<circle cx="387" cy="261.3" r="3.3" fill="#EC2D68"/>
<circle cx="330.2" cy="266.7" r="3.3" fill="#EC2D68"/>
<circle cx="365.3" cy="265.6" r="3.3" fill="#EC2D68"/>
<circle cx="365.3" cy="268.2" r="3.3" fill="#EC2D68"/>
<circle cx="339.6" cy="289.9" r="3.3" fill="#EC2D68"/>
<circle cx="346.2" cy="293.2" r="3.3" fill="#EC2D68"/>
<circle cx="396" cy="297.8" r="3.3" fill="#EC2D68"/>
<circle cx="396.9" cy="302.4" r="3.3" fill="#EC2D68"/>
<circle cx="386.4" cy="300.8" r="3.3" fill="#EC2D68"/>
<circle cx="366.6" cy="305.7" r="3.3" fill="#EC2D68"/>
<circle cx="371.5" cy="304.8" r="3.3" fill="#EC2D68"/>
<circle cx="341.1" cy="309.3" r="3.3" fill="#EC2D68"/>
<circle cx="400.6" cy="309.3" r="3.3" fill="#EC2D68"/>
<circle cx="414.3" cy="309" r="3.3" fill="#EC2D68"/>
<circle cx="285" cy="311" r="3.3" fill="#EC2D68"/>
<circle cx="305.3" cy="313.2" r="3.3" fill="#EC2D68"/>
<circle cx="310.9" cy="314" r="3.3" fill="#EC2D68"/>
<circle cx="347.2" cy="312.7" r="3.3" fill="#EC2D68"/>
<circle cx="376.9" cy="314" r="3.3" fill="#EC2D68"/>
<circle cx="384.4" cy="315.6" r="3.3" fill="#EC2D68"/>
<circle cx="309.5" cy="320.5" r="3.3" fill="#EC2D68"/>
<circle cx="410.9" cy="322.5" r="3.3" fill="#EC2D68"/>
<circle cx="430.3" cy="321.9" r="3.3" fill="#EC2D68"/>
<circle cx="338.9" cy="324.2" r="3.3" fill="#EC2D68"/>
<circle cx="443.1" cy="327.7" r="3.3" fill="#EC2D68"/>
<circle cx="347.5" cy="328.1" r="3.3" fill="#EC2D68"/>
<circle cx="352.1" cy="328.8" r="3.3" fill="#EC2D68"/>
<circle cx="340.9" cy="331.2" r="3.3" fill="#EC2D68"/>
<circle cx="429.9" cy="333.1" r="3.3" fill="#EC2D68"/>
<circle cx="381.8" cy="334.3" r="3.3" fill="#EC2D68"/>
<circle cx="260.4" cy="336.3" r="3.3" fill="#EC2D68"/>
<circle cx="372.1" cy="337.1" r="3.3" fill="#EC2D68"/>
<circle cx="287.7" cy="338.2" r="3.3" fill="#EC2D68"/>
<circle cx="349.5" cy="338" r="3.3" fill="#EC2D68"/>
<circle cx="352.7" cy="339.3" r="3.3" fill="#EC2D68"/>
<circle cx="364" cy="339.3" r="3.3" fill="#EC2D68"/>
<circle cx="410.5" cy="338.9" r="3.3" fill="#EC2D68"/>
<circle cx="402.2" cy="340.7" r="3.3" fill="#EC2D68"/>
<circle cx="311.2" cy="344.6" r="3.3" fill="#EC2D68"/>
<circle cx="325.1" cy="346.3" r="3.3" fill="#EC2D68"/>
<circle cx="352.1" cy="345.9" r="3.3" fill="#EC2D68"/>
<circle cx="358.9" cy="346.2" r="3.3" fill="#EC2D68"/>
<circle cx="284.8" cy="347.9" r="3.3" fill="#EC2D68"/>
<circle cx="279.2" cy="350.5" r="3.3" fill="#EC2D68"/>
<circle cx="304.6" cy="348.6" r="3.3" fill="#EC2D68"/>
<circle cx="332.3" cy="360.4" r="3.3" fill="#EC2D68"/>
<circle cx="340.5" cy="359.8" r="3.3" fill="#EC2D68"/>
<circle cx="292.7" cy="368.5" r="3.3" fill="#EC2D68"/>
<circle cx="303.3" cy="369.1" r="3.3" fill="#EC2D68"/>
<circle cx="313.2" cy="366.6" r="3.3" fill="#EC2D68"/>
<circle cx="308.6" cy="373" r="3.3" fill="#EC2D68"/>
<circle cx="404.6" cy="378.5" r="3.3" fill="#EC2D68"/>
<circle cx="345.5" cy="377.8" r="3.3" fill="#EC2D68"/>
<circle cx="348.1" cy="381.8" r="3.3" fill="#EC2D68"/>
<circle cx="300.7" cy="381.3" r="3.3" fill="#EC2D68"/>
<circle cx="321.8" cy="382.5" r="3.3" fill="#EC2D68"/>
<circle cx="329.7" cy="384.2" r="3.3" fill="#EC2D68"/>
<circle cx="333.6" cy="386.8" r="3.3" fill="#EC2D68"/>
<circle cx="339.6" cy="389.5" r="3.3" fill="#EC2D68"/>
<circle cx="342.9" cy="393.7" r="3.3" fill="#EC2D68"/>
<circle cx="384.4" cy="397.4" r="3.3" fill="#EC2D68"/>
<circle cx="299.3" cy="406.6" r="3.3" fill="#EC2D68"/>
<circle cx="316.7" cy="407.3" r="3.3" fill="#EC2D68"/>
<circle cx="304.6" cy="409.5" r="3.3" fill="#EC2D68"/>
<circle cx="326" cy="414.8" r="3.3" fill="#EC2D68"/>
<circle cx="279.6" cy="420.6" r="3.3" fill="#EC2D68"/>
<circle cx="403.5" cy="421.9" r="3.3" fill="#EC2D68"/>
<circle cx="531.3" cy="216.5" r="3.3" fill="#EC2D68"/>
<circle cx="489.1" cy="286" r="3.3" fill="#EC2D68"/>
<circle cx="520.4" cy="286.3" r="3.3" fill="#EC2D68"/>
<circle cx="584" cy="295.6" r="3.3" fill="#EC2D68"/>
<circle cx="500.7" cy="306.4" r="3.3" fill="#EC2D68"/>
<circle cx="433.1" cy="151.5" r="3.3" fill="#6E0B2B"/>
<circle cx="401.1" cy="196.6" r="3.3" fill="#6E0B2B"/>
<circle cx="416.2" cy="203.8" r="3.3" fill="#6E0B2B"/>
<circle cx="411.4" cy="218.3" r="3.3" fill="#6E0B2B"/>
<circle cx="322.4" cy="222.6" r="3.3" fill="#6E0B2B"/>
<circle cx="373.1" cy="223.7" r="3.3" fill="#6E0B2B"/>
<circle cx="291.6" cy="227.1" r="3.3" fill="#6E0B2B"/>
<circle cx="435.4" cy="230" r="3.3" fill="#6E0B2B"/>
<circle cx="438.5" cy="232.9" r="3.3" fill="#6E0B2B"/>
<circle cx="295.5" cy="235.5" r="3.3" fill="#6E0B2B"/>
<circle cx="330.2" cy="236.6" r="3.3" fill="#6E0B2B"/>
<circle cx="409.1" cy="234.9" r="3.3" fill="#6E0B2B"/>
<circle cx="395.3" cy="244.5" r="3.3" fill="#6E0B2B"/>
<circle cx="449.3" cy="253.1" r="3.3" fill="#6E0B2B"/>
<circle cx="406.7" cy="258.6" r="3.3" fill="#6E0B2B"/>
<circle cx="406.9" cy="262.3" r="3.3" fill="#6E0B2B"/>
<circle cx="310.8" cy="262.6" r="3.3" fill="#6E0B2B"/>
<circle cx="351.8" cy="264.7" r="3.3" fill="#6E0B2B"/>
<circle cx="400.9" cy="275.1" r="3.3" fill="#6E0B2B"/>
<circle cx="430.3" cy="278.8" r="3.3" fill="#6E0B2B"/>
<circle cx="347.5" cy="283.7" r="3.3" fill="#6E0B2B"/>
<circle cx="355.4" cy="282.8" r="3.3" fill="#6E0B2B"/>
<circle cx="380.8" cy="281.5" r="3.3" fill="#6E0B2B"/>
<circle cx="372.3" cy="285.8" r="3.3" fill="#6E0B2B"/>
<circle cx="396.9" cy="286.1" r="3.3" fill="#6E0B2B"/>
<circle cx="339.6" cy="286.9" r="3.3" fill="#6E0B2B"/>
<circle cx="344.2" cy="286.3" r="3.3" fill="#6E0B2B"/>
<circle cx="448.4" cy="282.8" r="3.3" fill="#6E0B2B"/>
<circle cx="386.1" cy="291.2" r="3.3" fill="#6E0B2B"/>
<circle cx="385.7" cy="293.8" r="3.3" fill="#6E0B2B"/>
<circle cx="338.9" cy="298.1" r="3.3" fill="#6E0B2B"/>
<circle cx="342.9" cy="297.8" r="3.3" fill="#6E0B2B"/>
<circle cx="346.8" cy="300.4" r="3.3" fill="#6E0B2B"/>
<circle cx="340.9" cy="303.5" r="3.3" fill="#6E0B2B"/>
<circle cx="376.9" cy="299.8" r="3.3" fill="#6E0B2B"/>
<circle cx="377.8" cy="304.1" r="3.3" fill="#6E0B2B"/>
<circle cx="313.5" cy="302.4" r="3.3" fill="#6E0B2B"/>
<circle cx="429.9" cy="300.8" r="3.3" fill="#6E0B2B"/>
<circle cx="443.1" cy="299.8" r="3.3" fill="#6E0B2B"/>
<circle cx="365.3" cy="308.7" r="3.3" fill="#6E0B2B"/>
<circle cx="371.2" cy="308.4" r="3.3" fill="#6E0B2B"/>
<circle cx="260.4" cy="311.5" r="3.3" fill="#6E0B2B"/>
<circle cx="386.8" cy="314.5" r="3.3" fill="#6E0B2B"/>
<circle cx="353" cy="315.9" r="3.3" fill="#6E0B2B"/>
<circle cx="284.6" cy="316.5" r="3.3" fill="#6E0B2B"/>
<circle cx="303" cy="317.3" r="3.3" fill="#6E0B2B"/>
<circle cx="339.6" cy="318.6" r="3.3" fill="#6E0B2B"/>
<circle cx="381.8" cy="320.6" r="3.3" fill="#6E0B2B"/>
<circle cx="284.8" cy="322.9" r="3.3" fill="#6E0B2B"/>
<circle cx="287.2" cy="326.2" r="3.3" fill="#6E0B2B"/>
<circle cx="359.1" cy="323.9" r="3.3" fill="#6E0B2B"/>
<circle cx="305.7" cy="329.2" r="3.3" fill="#6E0B2B"/>
<circle cx="365.3" cy="328.8" r="3.3" fill="#6E0B2B"/>
<circle cx="414.3" cy="333.5" r="3.3" fill="#6E0B2B"/>
<circle cx="402.2" cy="334.5" r="3.3" fill="#6E0B2B"/>
<circle cx="352.1" cy="334.5" r="3.3" fill="#6E0B2B"/>
<circle cx="339.6" cy="338.4" r="3.3" fill="#6E0B2B"/>
<circle cx="340.9" cy="340.7" r="3.3" fill="#6E0B2B"/>
<circle cx="364" cy="341.3" r="3.3" fill="#6E0B2B"/>
<circle cx="366.9" cy="341.3" r="3.3" fill="#6E0B2B"/>
<circle cx="292.7" cy="344.6" r="3.3" fill="#6E0B2B"/>
<circle cx="297.4" cy="344.6" r="3.3" fill="#6E0B2B"/>
<circle cx="345.1" cy="351.2" r="3.3" fill="#6E0B2B"/>
<circle cx="403.5" cy="348.3" r="3.3" fill="#6E0B2B"/>
<circle cx="332.3" cy="358.1" r="3.3" fill="#6E0B2B"/>
<circle cx="340.5" cy="357.1" r="3.3" fill="#6E0B2B"/>
<circle cx="352.7" cy="359.1" r="3.3" fill="#6E0B2B"/>
<circle cx="349.5" cy="362.4" r="3.3" fill="#6E0B2B"/>
<circle cx="348.1" cy="367" r="3.3" fill="#6E0B2B"/>
<circle cx="404.8" cy="358.7" r="3.3" fill="#6E0B2B"/>
<circle cx="410.1" cy="358.5" r="3.3" fill="#6E0B2B"/>
<circle cx="308.6" cy="371" r="3.3" fill="#6E0B2B"/>
<circle cx="316.7" cy="372.3" r="3.3" fill="#6E0B2B"/>
<circle cx="333.6" cy="370.5" r="3.3" fill="#6E0B2B"/>
<circle cx="342.9" cy="371" r="3.3" fill="#6E0B2B"/>
<circle cx="325.2" cy="373.8" r="3.3" fill="#6E0B2B"/>
<circle cx="304.2" cy="374.7" r="3.3" fill="#6E0B2B"/>
<circle cx="292.7" cy="382.6" r="3.3" fill="#6E0B2B"/>
<circle cx="301.3" cy="383.9" r="3.3" fill="#6E0B2B"/>
<circle cx="279.6" cy="386.5" r="3.3" fill="#6E0B2B"/>
<circle cx="309.5" cy="392.4" r="3.3" fill="#6E0B2B"/>
<circle cx="329.9" cy="393.7" r="3.3" fill="#6E0B2B"/>
<circle cx="299.3" cy="400.7" r="3.3" fill="#6E0B2B"/>
<circle cx="345.5" cy="402.2" r="3.3" fill="#6E0B2B"/>
<circle cx="321.8" cy="403" r="3.3" fill="#6E0B2B"/>
<circle cx="326.4" cy="403.6" r="3.3" fill="#6E0B2B"/>
<circle cx="365.9" cy="408.2" r="3.3" fill="#6E0B2B"/>
<circle cx="279.6" cy="409.8" r="3.3" fill="#6E0B2B"/>
<circle cx="324.4" cy="410.2" r="3.3" fill="#6E0B2B"/>
<circle cx="310.8" cy="414.1" r="3.3" fill="#6E0B2B"/>
<circle cx="304.6" cy="417.4" r="3.3" fill="#6E0B2B"/>
<circle cx="384.4" cy="420" r="3.3" fill="#6E0B2B"/>
<circle cx="298.9" cy="431.9" r="3.3" fill="#6E0B2B"/>
<circle cx="531.3" cy="223" r="3.3" fill="#6E0B2B"/>
<circle cx="520.4" cy="249.8" r="3.3" fill="#6E0B2B"/>
<circle cx="584" cy="254.4" r="3.3" fill="#6E0B2B"/>
<circle cx="500.7" cy="300" r="3.3" fill="#6E0B2B"/>
<circle cx="489.1" cy="325.5" r="3.3" fill="#6E0B2B"/>
<circle cx="411.4" cy="234.9" r="3.3" fill="#EC2D68"/>
<circle cx="409.6" cy="266.9" r="3.3" fill="#EC2D68"/>
<circle cx="377.7" cy="286.1" r="3.3" fill="#EC2D68"/>
<circle cx="448.4" cy="300.4" r="3.3" fill="#EC2D68"/>
<circle cx="292.5" cy="328.8" r="3.3" fill="#EC2D68"/>
<circle cx="345.5" cy="348.6" r="3.3" fill="#EC2D68"/>
<circle cx="298.7" cy="383.9" r="3.3" fill="#EC2D68"/>
<circle cx="324.4" cy="398" r="3.3" fill="#EC2D68"/>
<path d="M187.6 401.8 L597 204.5" stroke="#6E0B2B" stroke-width="3.5" fill="none"/>
<path d="M187.6 392.5 L597 216.6" stroke="#EC2D68" stroke-width="3.5" fill="none"/>
<text x="513" y="196" font-size="24" textLength="79" lengthAdjust="spacingAndGlyphs" fill="#6E0B2B"><tspan font-style="italic">r</tspan> = 0.48</text>
<text x="513" y="281" font-size="24" textLength="74" lengthAdjust="spacingAndGlyphs" fill="#EC2D68"><tspan font-style="italic">r</tspan> = 0.41</text>
<circle cx="203" cy="473.8" r="5.8" fill="#EC2D68"/>
<text x="218" y="483.2" font-size="26.5" textLength="37" lengthAdjust="spacingAndGlyphs">JJA</text>
<circle cx="299.5" cy="473.3" r="5.8" fill="#6E0B2B"/>
<text x="313" y="483.2" font-size="26.5" textLength="226" lengthAdjust="spacingAndGlyphs">13 July–26 August</text>
</svg></body></html>
